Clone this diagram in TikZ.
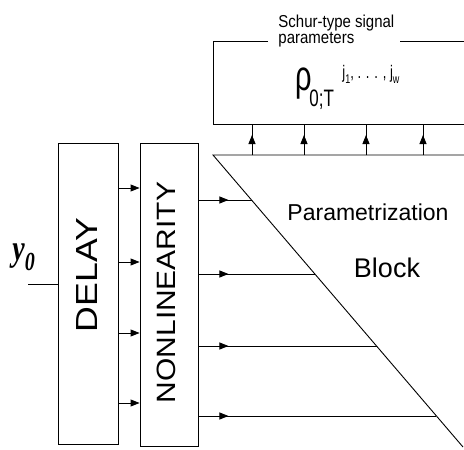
\documentclass[tikz,border=0pt]{standalone}
\usepackage{fontspec}
\setmainfont{Liberation Sans}
\newfontfamily\tms{Liberation Serif}
\usetikzlibrary{arrows.meta,calc}
\begin{document}
\begin{tikzpicture}[x=1pt,y=-1pt,line width=0.9pt,
  tip/.style={-{Triangle[length=9pt,width=7pt]}},
  blk/.style={draw,inner sep=0pt}]
\useasboundingbox (0,0) rectangle (464,450);
% blocks
\node[blk,minimum width=60pt,minimum height=301pt] (delay) at (88,293.5) {};
\node[blk,minimum width=58pt,minimum height=303pt] (nl) at (169,294.5) {};
\node[rotate=90,inner sep=0pt,font=\fontsize{30.5}{30.5}\selectfont] (dtxt) at (87,275) {\scalebox{1.17}[1]{DELAY}};
\node[rotate=90,inner sep=0pt,font=\fontsize{26.5}{26.5}\selectfont] (ntxt) at (166,292.5) {\scalebox{1.13}[1]{NONLINEARITY}};
% input
\coordinate (yin) at (28,284);
\draw (yin) -- (delay.west |- yin);
\node[inner sep=0pt,anchor=base west] (ylab) at (12,260) {\tms\bfseries\itshape\fontsize{28}{28}\selectfont\scalebox{1}[1.3]{y\raisebox{-0.3em}{\fontsize{20}{20}\selectfont 0}}};
% delay -> nonlinearity
\foreach \yy in {188,262,333,403}{
  \draw[tip] (delay.east |- 0,\yy) -- (nl.west |- 0,\yy);
}
% parametrization triangle
\coordinate (t1) at (213,155);
\coordinate (t2) at (463,447);
\coordinate (t3) at (464,155);
\draw (t3) -- (t1) -- (t2);
\coordinate (d1) at ($(t1)!0.1541!(t2)$);
\coordinate (d2) at ($(t1)!0.4075!(t2)$);
\coordinate (d3) at ($(t1)!0.6541!(t2)$);
\coordinate (d4) at ($(t1)!0.8938!(t2)$);
\foreach \d/\yy in {d1/200,d2/274,d3/346,d4/416}{
  \coordinate (\d) at (\d |- 0,\yy);
  \draw (nl.east |- \d) -- (\d);
  \draw[tip] (nl.east |- \d) -- ++(30,0);
}
\node[anchor=base,inner sep=0pt,font=\fontsize{23}{23}\selectfont] (ptxt) at (368,220) {Parametrization};
\node[anchor=base,inner sep=0pt,font=\fontsize{27}{27}\selectfont] (btxt) at (387,277) {Block};
% top box
\coordinate (b1) at (268,41);
\coordinate (b2) at (213,41);
\coordinate (b3) at (213,124);
\coordinate (b4) at (464,124);
\coordinate (b5) at (400,41);
\coordinate (b6) at (464,41);
\draw (b1) -- (b2) -- (b3) -- (b4);
\draw (b5) -- (b6);
\foreach \xx in {252,304,366,423}{
  \draw (\xx,155) -- (\xx,124);
  \draw[tip] (\xx,155) -- (\xx,135);
}
\node[anchor=base west,inner sep=0pt,font=\fontsize{15}{15}\selectfont] (s1) at (278,27) {\scalebox{1}[1.15]{Schur-type signal}};
\node[anchor=base west,inner sep=0pt,font=\fontsize{15}{15}\selectfont] (s2) at (278,43) {\scalebox{1}[1.15]{parameters}};
% rho
\node[anchor=base,inner sep=0pt,font=\fontsize{29}{29}\selectfont] (rho) at (304,90) {\scalebox{1}[1.45]{ρ}};
\node[anchor=base west,inner sep=0pt,font=\fontsize{17}{17}\selectfont] (sub) at (309,106) {\scalebox{1}[1.4]{0;T}};
\node[anchor=base west,inner sep=0pt,font=\fontsize{13}{13}\selectfont] (sup) at (342,78) {\scalebox{1}[1.4]{j\raisebox{-0.3em}{\fontsize{9}{9}\selectfont 1}, . . . , j\raisebox{-0.3em}{\fontsize{9}{9}\selectfont w}}};
\end{tikzpicture}
\end{document}
